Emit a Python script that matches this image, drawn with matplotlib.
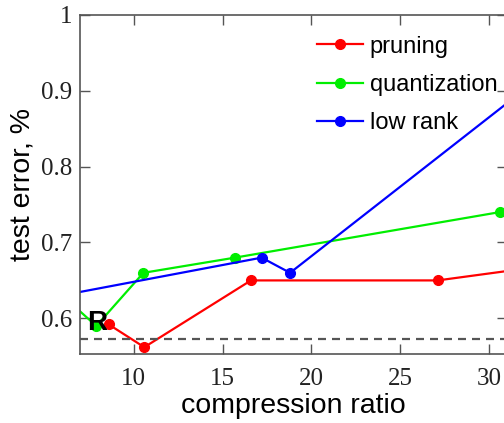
import matplotlib
matplotlib.use('Agg')
import matplotlib.pyplot as plt

# compression ratio vs test error (%), points past the x range are clipped
prune_x = [8.6, 10.6, 16.6, 27.1, 35.0]
prune_y = [0.592, 0.562, 0.650, 0.650, 0.675]

quant_x = [6.0, 7.9, 10.55, 15.7, 30.6]
quant_y = [0.630, 0.590, 0.660, 0.680, 0.740]

lowrank_x = [5.0, 17.2, 18.8, 33.0]
lowrank_y = [0.626, 0.680, 0.660, 0.920]

baseline = 0.573
ref_point = (7.95, 0.594)

sans = ['Liberation Sans', 'DejaVu Sans']
serif = ['Liberation Serif', 'DejaVu Serif']

fig = plt.figure(figsize=(5.04, 4.23), dpi=100)
ax = fig.add_axes([0.1593, 0.163, 0.8466, 0.8022])

ax.plot(prune_x, prune_y, color='#ff0000', marker='o', markersize=7, linewidth=1.6, label='pruning')
ax.plot(quant_x, quant_y, color='#00ee00', marker='o', markersize=7, linewidth=1.6, label='quantization')
ax.plot(lowrank_x, lowrank_y, color='#0000ff', marker='o', markersize=7, linewidth=1.6, label='low rank')
ax.axhline(baseline, color='#555555', linestyle=(0, (3.6, 2.7)), linewidth=1.6)
ax.text(ref_point[0], ref_point[1], 'R', fontsize=20, fontweight='bold', family=sans,
        ha='center', va='center', zorder=5)

ax.set_xlim(7, 31)
ax.set_ylim(0.553, 1.0)
ax.set_xticks([10, 15, 20, 25, 30])
ax.set_yticks([0.6, 0.7, 0.8, 0.9, 1.0])
ax.set_yticklabels(['0.6', '0.7', '0.8', '0.9', '1'])

for s in ax.spines.values():
    s.set_color('#555555')
    s.set_linewidth(1.2)
ax.tick_params(direction='in', length=7.2, width=1.0, color='#555555',
               top=True, right=True, labelsize=18)
ax.tick_params(axis='x', pad=10)
ax.tick_params(axis='y', pad=6)
for lab in ax.get_xticklabels() + ax.get_yticklabels():
    lab.set_family(serif)
    lab.set_color('#222222')

ax.set_xlabel('compression ratio', fontsize=20.5, family=sans, labelpad=2)
ax.set_ylabel('test error, %', fontsize=20.5, family=sans, labelpad=4)

leg = ax.legend(loc='upper left', bbox_to_anchor=(0.554, 0.938), frameon=False,
                prop={'family': sans, 'size': 17}, handlelength=1.95,
                handletextpad=0.3, labelspacing=0.68, borderpad=0, borderaxespad=0)

plt.savefig('out.png', dpi=100, facecolor='w')
